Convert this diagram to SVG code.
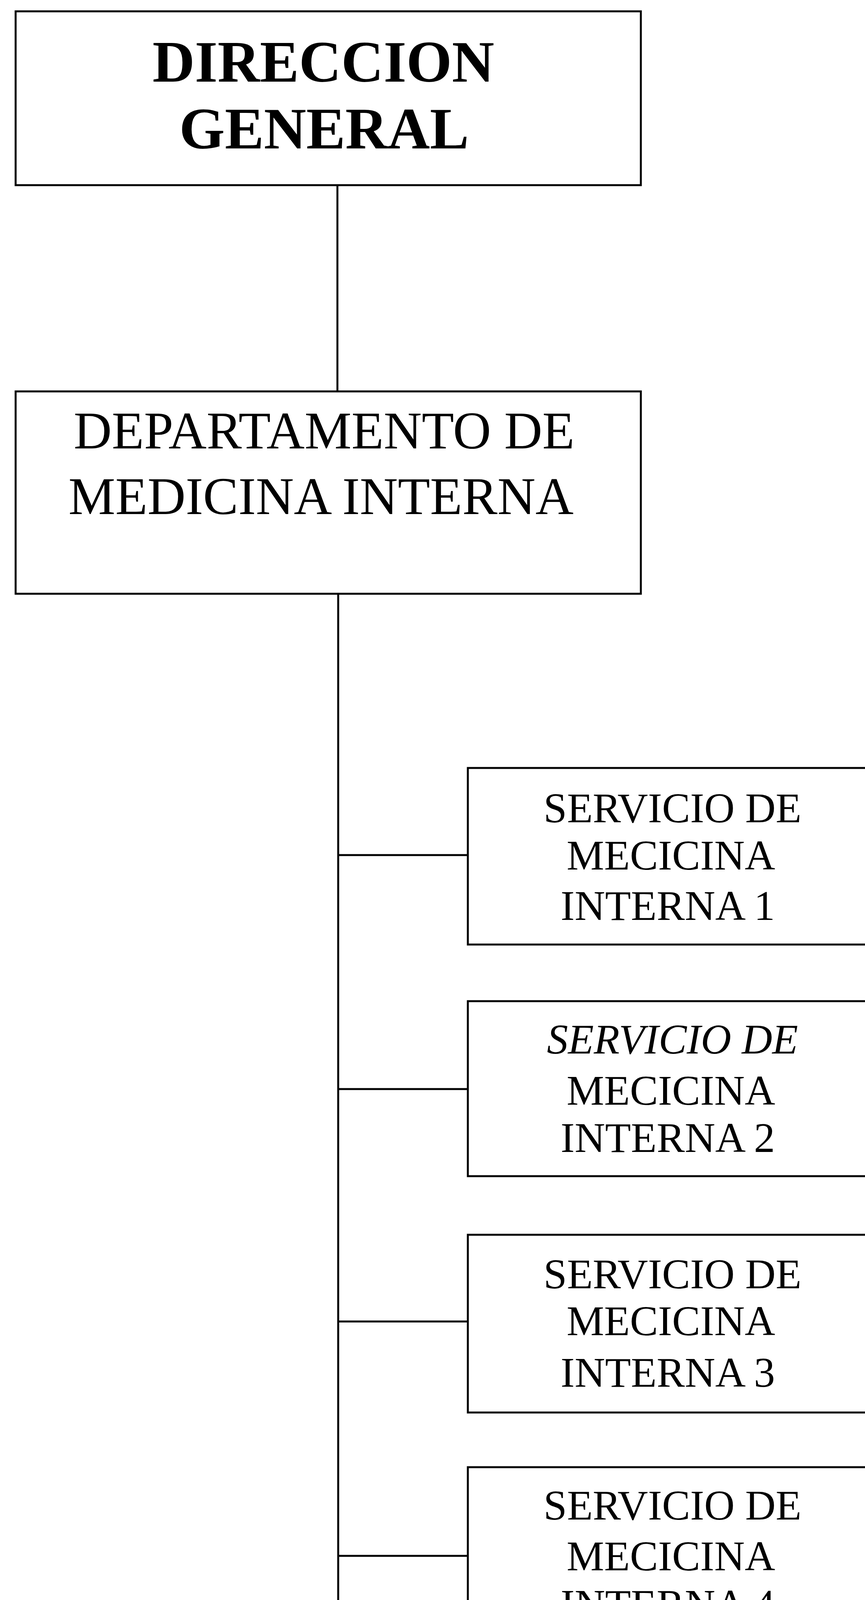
<svg xmlns="http://www.w3.org/2000/svg" width="2215" height="4791" viewBox="0 0 2215 4791">
<style>
.box{fill:#fff;stroke:#000;stroke-width:5}
.con{stroke:#000;stroke-width:5;fill:none}
.big{font-family:"Liberation Serif","Times New Roman",serif;font-size:150px;font-weight:bold;fill:#000;text-anchor:middle}
.mid{font-family:"Liberation Serif","Times New Roman",serif;font-size:135px;fill:#000;text-anchor:middle}
.sm{font-family:"Liberation Serif","Times New Roman",serif;font-size:108px;fill:#000;text-anchor:middle}
</style>
<rect width="2215" height="4791" fill="#fff"/>
<g id="connectors">
<line class="con" x1="864" y1="474" x2="864" y2="1002"/>
<polyline class="con" points="866,1520 866,4580 1198,4580"/>
<line class="con" x1="866" y1="2189" x2="1198" y2="2189"/>
<line class="con" x1="866" y1="2788" x2="1198" y2="2788"/>
<line class="con" x1="866" y1="3383" x2="1198" y2="3383"/>
<line class="con" x1="866" y1="3983" x2="1198" y2="3983"/>
</g>
<g id="direccion-general">
<rect class="box" x="40" y="29" width="1601" height="445"/>
<text class="big" x="828" y="209">DIRECCION</text>
<text class="big" x="830" y="380">GENERAL</text>
</g>
<g id="departamento">
<rect class="box" x="40" y="1002" width="1601" height="518"/>
<text class="mid" x="830" y="1148">DEPARTAMENTO DE</text>
<text class="mid" x="822" y="1316">MEDICINA INTERNA</text>
</g>
<g id="servicio1">
<rect class="box" x="1198" y="1966" width="1100" height="452"/>
<text class="sm" x="1722" y="2105">SERVICIO DE</text>
<text class="sm" x="1718" y="2226">MECICINA</text>
<text class="sm" x="1710" y="2355">INTERNA 1</text>
</g>
<g id="servicio2">
<rect class="box" x="1198" y="2563" width="1100" height="448"/>
<text class="sm" x="1722" y="2697" font-style="italic">SERVICIO DE</text>
<text class="sm" x="1718" y="2828">MECICINA</text>
<text class="sm" x="1710" y="2949">INTERNA 2</text>
</g>
<g id="servicio3">
<rect class="box" x="1198" y="3161" width="1100" height="455"/>
<text class="sm" x="1722" y="3298">SERVICIO DE</text>
<text class="sm" x="1718" y="3418">MECICINA</text>
<text class="sm" x="1710" y="3550">INTERNA 3</text>
</g>
<g id="servicio4">
<rect class="box" x="1198" y="3756" width="1100" height="452"/>
<text class="sm" x="1722" y="3890">SERVICIO DE</text>
<text class="sm" x="1718" y="4020">MECICINA</text>
<text class="sm" x="1710" y="4144">INTERNA 4</text>
</g>
<g id="servicio5">
<rect class="box" x="1198" y="4356" width="1100" height="500"/>
<text class="sm" x="1722" y="4494">SERVICIO DE</text>
<text class="sm" x="1718" y="4613">MECICINA</text>
<text class="sm" x="1710" y="4745">INTERNA 5</text>
</g>
</svg>
